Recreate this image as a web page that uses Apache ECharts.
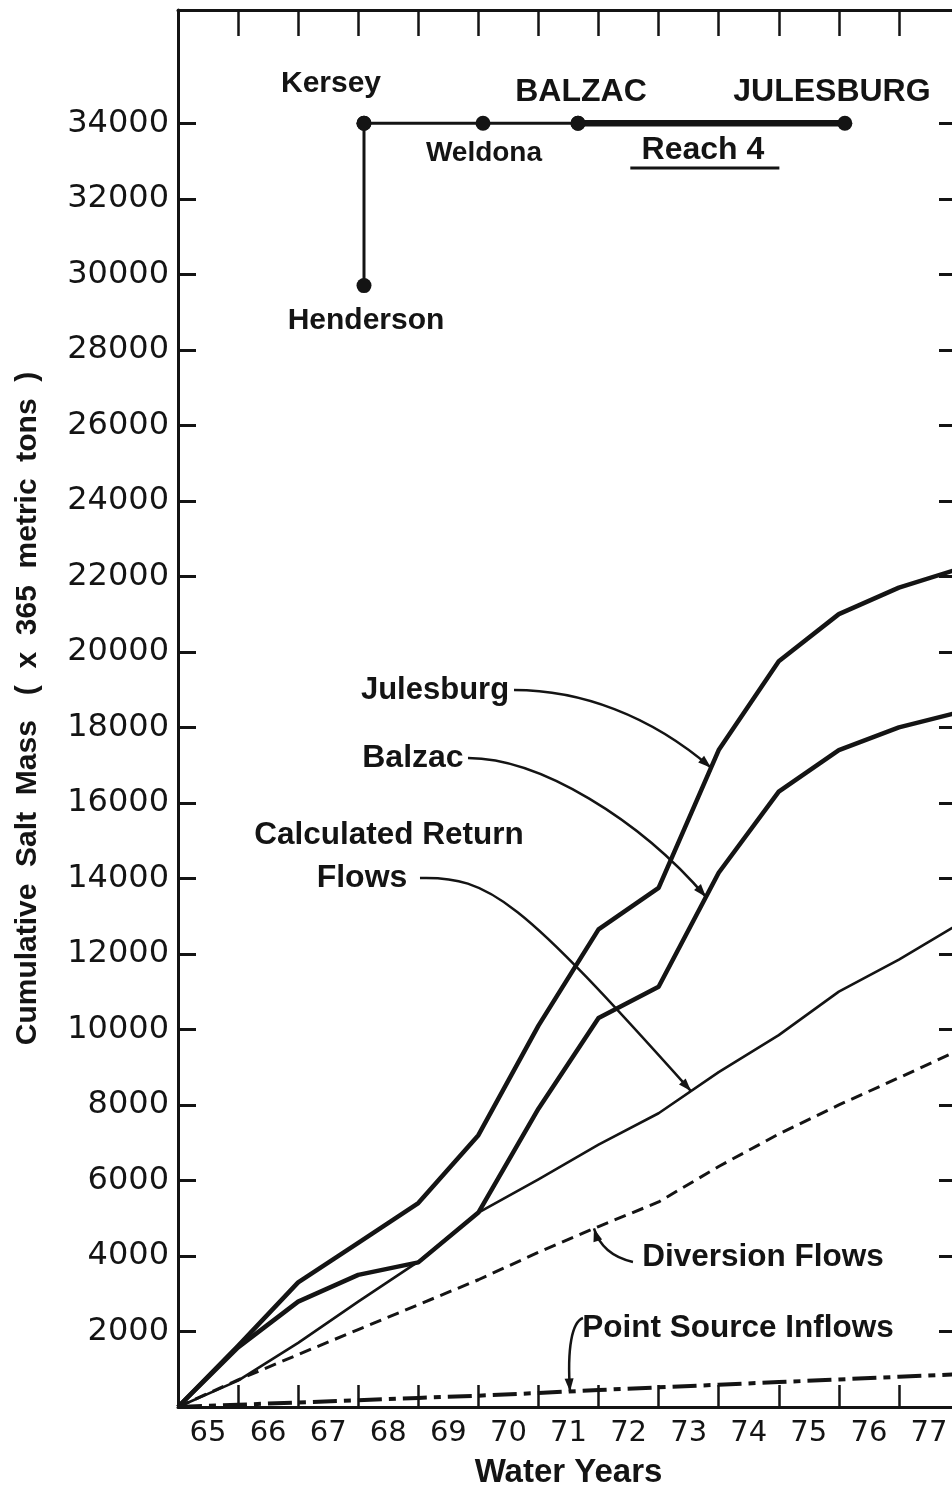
<!DOCTYPE html>
<html>
<head>
<meta charset="utf-8">
<title>Cumulative Salt Mass - Reach 4</title>
<script src="https://cdn.jsdelivr.net/npm/echarts@6/dist/echarts.min.js"></script>
<style>
  html, body { margin: 0; padding: 0; background: #fff; }
  #chart { width: 952px; height: 1486px; }
</style>
</head>
<body>
<div id="chart"></div>
<script>
// water year labels (one per yearly band on the x axis)
var waterYears = ['65', '66', '67', '68', '69', '70', '71', '72', '73', '74', '75', '76', '77'];
// year boundaries: 0 = start of WY65 ... 13 = end of WY77
var yearEnds = [0, 1, 2, 3, 4, 5, 6, 7, 8, 9, 10, 11, 12, 13];

// cumulative salt mass (x 365 metric tons) at the end of each water year
var julesburg   = [0, 1620, 3300, 4350, 5400, 7200, 10100, 12650, 13750, 17400, 19750, 21000, 21700, 22200];
var balzac      = [0, 1580, 2790, 3500, 3830, 5150, 7900, 10300, 11130, 14150, 16300, 17400, 18000, 18400];
var returnFlows = [0, 700, 1700, 2790, 3850, 5150, 6030, 6950, 7780, 8870, 9850, 11000, 11850, 12800];
var diversion   = [0, 720, 1390, 2050, 2710, 3370, 4100, 4780, 5430, 6370, 7230, 8000, 8720, 9450];
var pointSource = [0, 60, 120, 180, 240, 300, 370, 450, 520, 590, 660, 730, 800, 870];

// y tick labels
var yTicks = [2000, 4000, 6000, 8000, 10000, 12000, 14000, 16000, 18000, 20000,
              22000, 24000, 26000, 28000, 30000, 32000, 34000];
var xTicks = [1, 2, 3, 4, 5, 6, 7, 8, 9, 10, 11, 12];

var LABEL_FONT = 'DejaVu Sans';
var NOTE_FONT = 'Liberation Sans';
var INK = '#141414';

/**
 * river schematic (x in water-year units, y in axis units)
 */
var station = {
    kersey:    [3.096, 34000],
    weldona:   [5.077, 34000],
    balzac:    [6.658, 34000],
    julesburg: [11.10, 34000],
    henderson: [3.096, 29700]
};

/**
 * annotation texts, positioned in axis units
 */
var notes = [
    { text: 'Kersey',               at: [2.547, 35040],  size: 30 },
    { text: 'BALZAC',               at: [6.708, 34828],  size: 32 },
    { text: 'JULESBURG',            at: [10.885, 34828], size: 32 },
    { text: 'Weldona',              at: [5.093, 33212],  size: 28 },
    { text: 'Reach 4',              at: [8.738, 33292],  size: 32 },
    { text: 'Henderson',            at: [3.129, 28763],  size: 30 },
    { text: 'Julesburg',            at: [4.278, 18990],  size: 31 },
    { text: 'Balzac',               at: [3.911, 17189],  size: 32 },
    { text: 'Calculated Return',    at: [3.512, 15149],  size: 31.5 },
    { text: 'Flows',                at: [3.063, 14010],  size: 32 },
    { text: 'Diversion Flows',      at: [9.737, 3973],   size: 31.5 },
    { text: 'Point Source Inflows', at: [9.321, 2092],   size: 31.5 }
];

/**
 * leader curves: start, two control points, and the x where the arrow lands on a series
 */
var leaders = [
    { from: [5.593, 18990], c1: [6.691, 18990], c2: [7.856, 18327], tipX: 8.872, line: julesburg },
    { from: [4.827, 17189], c1: [6.025, 17189], c2: [7.690, 15547], tipX: 8.788, line: balzac },
    { from: [4.028, 14010], c1: [5.193, 14063], c2: [5.692, 13428], tipX: 8.539, line: returnFlows },
    { from: [7.573, 3840],  c1: [7.274, 3946],  c2: [7.024, 4211],  tipX: 6.924, line: diversion },
    { from: [6.741, 2357],  c1: [6.558, 2251],  c2: [6.475, 1563],  tipX: 6.525, line: pointSource }
];

var reachUnderline = [[7.529, 32815], [10.01, 32815]];

function pairs(values) {
    return yearEnds.map(function (x, i) { return [x, values[i]]; });
}

// linear read of a series at x (between year ends)
function valueAt(values, x) {
    var i = Math.min(Math.floor(x), values.length - 2);
    var f = x - i;
    return values[i] + (values[i + 1] - values[i]) * f;
}

function lineSeries(name, values, width, type) {
    return {
        name: name,
        type: 'line',
        data: pairs(values),
        showSymbol: false,
        silent: true,
        lineStyle: { color: INK, width: width, type: type || 'solid', cap: 'butt', join: 'round' },
        z: 3
    };
}

function schematicSeries(points, width) {
    return {
        type: 'line',
        data: points,
        symbol: 'circle',
        symbolSize: 15,
        showSymbol: true,
        silent: true,
        itemStyle: { color: INK },
        lineStyle: { color: INK, width: width },
        z: 4
    };
}

function frameAxis(extra) {
    var axis = {
        type: 'value',
        axisLine: { onZero: false, lineStyle: { color: INK, width: 3 } },
        splitLine: { show: false }
    };
    for (var k in extra) axis[k] = extra[k];
    return axis;
}

var chart = echarts.init(document.getElementById('chart'));

var option = {
    animation: false,
    backgroundColor: '#ffffff',
    // the frame runs a few pixels past the right edge of the page, as in the scan
    grid: { left: 178, top: 10, width: 781, bottom: 79, outerBoundsMode: 'none', containLabel: false },
    xAxis: [
        frameAxis({
            min: 0, max: 13, interval: 1,
            position: 'bottom',
            name: 'Water Years',
            nameLocation: 'middle',
            nameGap: 49,
            nameTextStyle: { fontFamily: NOTE_FONT, fontWeight: 'bold', fontSize: 33, color: INK },
            axisTick: { inside: true, length: 22, lineStyle: { color: INK, width: 2.5 }, customValues: xTicks },
            axisLabel: {
                customValues: waterYears.map(function (y, i) { return i + 0.5; }),
                formatter: function (v) { return waterYears[Math.floor(v)]; },
                fontFamily: LABEL_FONT, fontSize: 29, color: INK, margin: 12
            }
        }),
        frameAxis({
            min: 0, max: 13, interval: 1,
            position: 'top',
            axisTick: { inside: true, length: 26, lineStyle: { color: INK, width: 2.5 }, customValues: xTicks },
            axisLabel: { show: false }
        })
    ],
    yAxis: [
        frameAxis({
            min: 0, max: 37000,
            position: 'left',
            name: 'Cumulative  Salt  Mass   (  x  365  metric  tons  )',
            nameLocation: 'middle',
            nameRotate: 90,
            nameGap: 135,
            nameTextStyle: { fontFamily: NOTE_FONT, fontWeight: 'bold', fontSize: 30, color: INK },
            axisTick: { inside: true, length: 18, lineStyle: { color: INK, width: 3 }, customValues: yTicks },
            axisLabel: {
                customValues: yTicks,
                formatter: function (v) { return String(v); },
                fontFamily: LABEL_FONT, fontSize: 32, color: INK, margin: 9
            }
        }),
        frameAxis({
            min: 0, max: 37000,
            position: 'right',
            axisTick: { inside: true, length: 20, lineStyle: { color: INK, width: 3 }, customValues: yTicks },
            axisLabel: { show: false }
        })
    ],
    series: [
        lineSeries('Julesburg', julesburg, 4.5),
        lineSeries('Balzac', balzac, 4.5),
        lineSeries('Calculated Return Flows', returnFlows, 2.6),
        lineSeries('Diversion Flows', diversion, 3, [12, 7]),
        lineSeries('Point Source Inflows', pointSource, 4, [24, 7, 7, 7]),
        schematicSeries([station.kersey, station.weldona, station.balzac], 3),
        schematicSeries([station.balzac, station.julesburg], 6.5),
        schematicSeries([station.kersey, station.henderson], 3),
        {
            type: 'line', data: reachUnderline, showSymbol: false, silent: true,
            lineStyle: { color: INK, width: 3 }
        }
    ]
};

chart.setOption(option);

// texts and leader arrows, placed through the grid's coordinate system
function px(p) {
    return chart.convertToPixel({ gridIndex: 0 }, p);
}

var graphics = [];

notes.forEach(function (n) {
    var p = px(n.at);
    graphics.push({
        type: 'text', x: p[0], y: p[1], silent: true, z: 10,
        style: {
            text: n.text, fill: INK,
            font: 'bold ' + n.size + 'px "' + NOTE_FONT + '"',
            textAlign: 'center', textVerticalAlign: 'middle'
        }
    });
});

leaders.forEach(function (l) {
    var a = px(l.from), c1 = px(l.c1), c2 = px(l.c2);
    var t = px([l.tipX, valueAt(l.line, l.tipX)]);
    graphics.push({
        type: 'bezierCurve', silent: true, z: 10,
        shape: { x1: a[0], y1: a[1], cpx1: c1[0], cpy1: c1[1], cpx2: c2[0], cpy2: c2[1], x2: t[0], y2: t[1] },
        style: { stroke: INK, lineWidth: 2.5, fill: null }
    });
    // arrow head along the last control leg
    var dx = t[0] - c2[0], dy = t[1] - c2[1];
    var len = Math.sqrt(dx * dx + dy * dy) || 1;
    dx /= len; dy /= len;
    var L = 13, W = 4.5;
    var bx = t[0] - dx * L, by = t[1] - dy * L;
    graphics.push({
        type: 'polygon', silent: true, z: 11,
        shape: { points: [[t[0], t[1]], [bx - dy * W, by + dx * W], [bx + dy * W, by - dx * W]] },
        style: { fill: INK }
    });
});

chart.setOption({ graphic: graphics });
</script>
</body>
</html>
